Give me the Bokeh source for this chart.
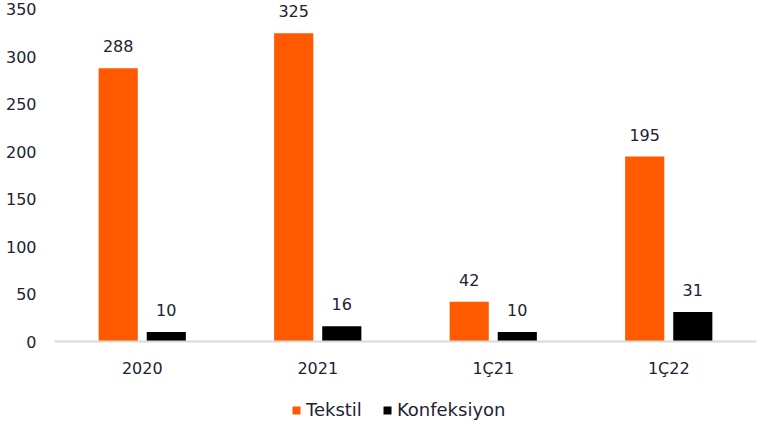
from bokeh.plotting import figure
from bokeh.models import ColumnDataSource, FactorRange, Legend, LegendItem, LabelSet
from bokeh.core.properties import value
from bokeh.layouts import column
from bokeh.transform import dodge
from bokeh.embed import file_html
from bokeh.resources import INLINE

categories = ["2020", "2021", "1Ç21", "1Ç22"]
tekstil = [288, 325, 42, 195]
konfeksiyon = [10, 16, 10, 31]
y_ticks = [0, 50, 100, 150, 200, 250, 300, 350]

FONT = "DejaVu Sans"
TXT = "#222233"
ORANGE = "#ff5a00"

src = ColumnDataSource(dict(cat=categories, t=tekstil, k=konfeksiyon,
                            tl=[str(v) for v in tekstil], kl=[str(v) for v in konfeksiyon]))

p = figure(x_range=FactorRange(*categories, range_padding=0), y_range=(0, 356.3),
           width=758, height=380, output_backend="svg", toolbar_location=None,
           min_border_left=54, min_border_right=2, min_border_top=3, min_border_bottom=38)
p.outline_line_color = None
p.xgrid.grid_line_color = None
p.ygrid.grid_line_color = None

r1 = p.vbar(x=dodge("cat", -0.137, range=p.x_range), top="t", width=0.223, source=src,
            fill_color=ORANGE, line_color=None)
r2 = p.vbar(x=dodge("cat", 0.137, range=p.x_range), top="k", width=0.223, source=src,
            fill_color="black", line_color=None)

for col, lab, off in (("t", "tl", -0.137), ("k", "kl", 0.137)):
    p.add_layout(LabelSet(x=dodge("cat", off, range=p.x_range), y=col, text=lab, source=src,
                          y_offset=22, text_align="center", text_baseline="middle",
                          text_font=value(FONT), text_font_size=value("16px"), text_color=TXT))

p.yaxis.ticker = y_ticks
p.yaxis.axis_line_color = None
p.yaxis.major_tick_line_color = None
p.yaxis.minor_tick_line_color = None
p.yaxis.major_tick_out = 0
p.yaxis.major_tick_in = 0
p.yaxis.major_label_text_font = FONT
p.yaxis.major_label_text_font_size = "16px"
p.yaxis.major_label_text_color = TXT
p.yaxis.major_label_standoff = 18

p.xaxis.axis_line_color = "#d9d9d9"
p.xaxis.axis_line_width = 2
p.xaxis.major_tick_line_color = None
p.xaxis.minor_tick_line_color = None
p.xaxis.major_tick_out = 0
p.xaxis.major_tick_in = 0
p.xaxis.major_label_text_font = FONT
p.xaxis.major_label_text_font_size = "16px"
p.xaxis.major_label_text_color = TXT
p.xaxis.major_label_standoff = 17

# legend strip
lf = figure(width=758, height=40, output_backend="svg", toolbar_location=None,
            x_range=(0, 1), y_range=(0, 1), min_border=0)
lf.outline_line_color = None
lf.axis.visible = False
lf.grid.visible = False
dummy = ColumnDataSource(dict(x=[-5], top=[0]))
l1 = lf.vbar(x="x", top="top", width=0.1, source=dummy, fill_color=ORANGE, line_color=None)
l2 = lf.vbar(x="x", top="top", width=0.1, source=dummy, fill_color="black", line_color=None)
legend = Legend(items=[LegendItem(label="Tekstil", renderers=[l1]),
                       LegendItem(label="Konfeksiyon", renderers=[l2])],
                orientation="horizontal", location=(237, 0),
                label_text_font=FONT, label_text_font_size="18px", label_text_color=TXT,
                glyph_width=10, glyph_height=10, label_standoff=5, spacing=20,
                border_line_color=None, background_fill_alpha=0, padding=2, margin=0)
lf.add_layout(legend, "center")

layout = column(p, lf, spacing=0)
open("out.html", "w").write(file_html(layout, INLINE))
